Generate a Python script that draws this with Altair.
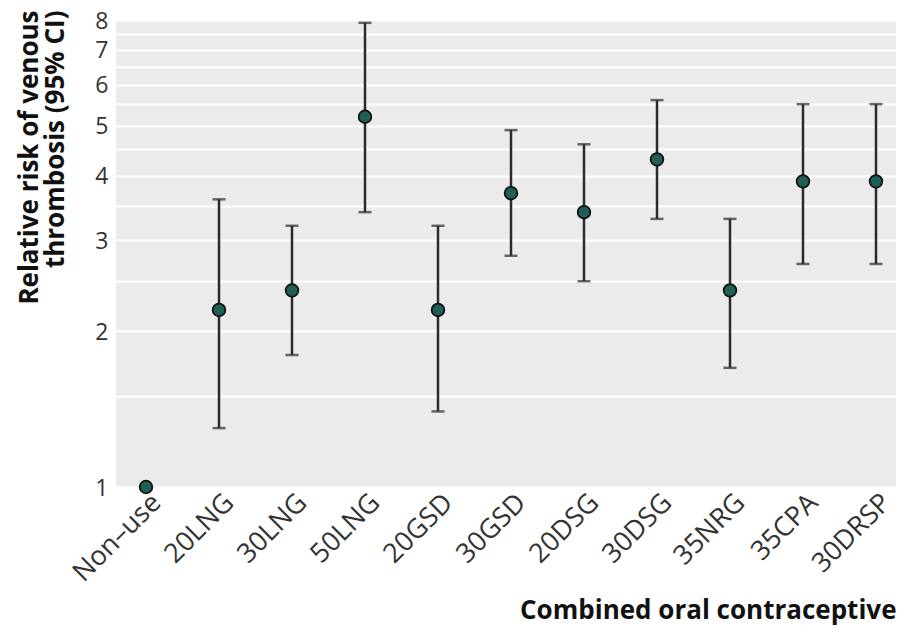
import altair as alt
import pandas as pd

categories = ["Non–use", "20LNG", "30LNG", "50LNG", "20GSD", "30GSD",
              "20DSG", "30DSG", "35NRG", "35CPA", "30DRSP"]
rr = [1.0, 2.2, 2.4, 5.2, 2.2, 3.7, 3.4, 4.3, 2.4, 3.9, 3.9]
lower = [None, 1.3, 1.8, 3.4, 1.4, 2.8, 2.5, 3.3, 1.7, 2.7, 2.7]
upper = [None, 3.6, 3.2, 7.9, 3.2, 4.9, 4.6, 5.6, 3.3, 5.5, 5.5]
y_grid = [1, 1.5, 2, 2.5, 3, 3.5, 4, 4.5, 5, 5.5, 6, 6.5, 7, 7.5, 8]

df = pd.DataFrame({"cat": categories, "rr": rr, "lo": lower, "hi": upper})

FONT = "Open Sans"

x_scale = alt.Scale(type="point", padding=0.3425, align=0.6)

x_enc = alt.X(
    "cat:N", sort=categories, scale=x_scale,
    axis=alt.Axis(
        title="Combined oral contraceptive",
        titleFont=FONT, titleFontSize=26, titleFontWeight="bold", titleColor="#111",
        titleAnchor="end", titleAlign="right", titleBaseline="alphabetic",
        titleX=780, titleY=131,
        labelAngle=-45, labelAlign="right", labelBaseline="top",
        labelFont=FONT, labelFontSize=27, labelColor="#333",
        labelPadding=-3, labelOffset=1,
        tickColor="white", tickSize=5, tickWidth=2,
        domain=False, grid=False,
    ),
)

y_scale = alt.Scale(type="log", domain=[1, 8], nice=False)

bars = alt.Chart(df).transform_filter("isValid(datum.lo)").mark_rule(
    color="#2b2b2b", strokeWidth=2.5
).encode(
    x=x_enc,
    y=alt.Y("lo:Q", scale=y_scale,
            axis=alt.Axis(
                values=y_grid,
                labelExpr="datum.value % 1 == 0 ? datum.label : ''",
                title=["Relative risk of venous", "thrombosis (95% CI)"],
                titleFont=FONT, titleFontSize=26, titleFontWeight="bold", titleColor="#111",
                titleAngle=-90, titleAlign="right", titleBaseline="middle",
                titleLineHeight=26, titleX=-87, titleY=-10,
                labelFont=FONT, labelFontSize=23, labelColor="#333",
                labelPadding=8, labelOffset=1, ticks=False, domain=False,
                grid=True, gridColor="white", gridWidth=2.2,
            )),
    y2="hi:Q",
)

caps_lo = alt.Chart(df).transform_filter("isValid(datum.lo)").mark_tick(
    color="#2b2b2b", thickness=2.5, size=13
).encode(x=alt.X("cat:N", sort=categories, scale=x_scale),
         y=alt.Y("lo:Q", scale=y_scale))

caps_hi = alt.Chart(df).transform_filter("isValid(datum.hi)").mark_tick(
    color="#2b2b2b", thickness=2.5, size=13
).encode(x=alt.X("cat:N", sort=categories, scale=x_scale),
         y=alt.Y("hi:Q", scale=y_scale))

points = alt.Chart(df).mark_point(
    filled=True, fill="#1f5f56", stroke="#111111", strokeWidth=1.8,
    size=160, opacity=1, shape="circle"
).encode(x=alt.X("cat:N", sort=categories, scale=x_scale),
         y=alt.Y("rr:Q", scale=y_scale))

chart = alt.layer(bars, caps_lo, caps_hi, points).properties(
    width=780, height=467,
    autosize=alt.AutoSizeParams(type="none"),
    padding={"left": 108, "top": 12, "right": 0, "bottom": 138},
).configure_view(fill="#ebebeb", stroke=None)

chart.save("out.html", embed_options={"renderer": "svg", "actions": False})
